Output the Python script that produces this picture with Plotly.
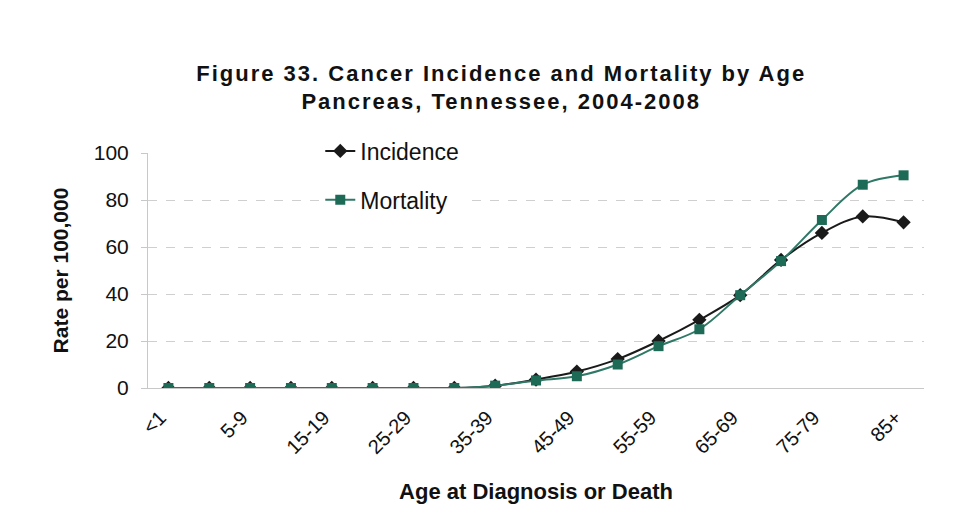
import plotly.graph_objects as go

# age groups (x axis) and rates per 100,000
age_groups = ['<1', '1-4', '5-9', '10-14', '15-19', '20-24', '25-29', '30-34', '35-39',
              '40-44', '45-49', '50-54', '55-59', '60-64', '65-69', '70-74', '75-79',
              '80-84', '85+']
incidence = [0, 0, 0, 0, 0, 0, 0, 0, 1.0, 3.6, 7.0, 12.3, 20.0, 29.0, 39.5, 54.5, 66.0, 73.0, 70.5]
mortality = [0, 0, 0, 0, 0, 0, 0, 0, 1.0, 3.2, 5.0, 10.0, 17.8, 25.0, 39.5, 54.0, 71.5, 86.5, 90.5]

tick_labels = age_groups[::2]

fig = go.Figure()

fig.add_trace(go.Scatter(x=age_groups, y=incidence, name='Incidence', legendgroup='inc',
                         mode='lines+markers', line=dict(color='#1a1a1a', width=2, shape='spline'),
                         marker=dict(symbol='diamond', size=11, color='#1a1a1a')))
fig.add_trace(go.Scatter(x=age_groups, y=mortality, name='Mortality', legendgroup='mort',
                         mode='lines+markers', line=dict(color='#2f7866', width=2, shape='spline'),
                         marker=dict(symbol='square', size=10, color='#1d6b57')))

fig.update_xaxes(range=[-0.5, 18.5], tickvals=tick_labels, ticktext=tick_labels,
                 tickangle=-45, tickfont=dict(size=20, color='#111'),
                 ticklabelstandoff=9, ticklabelshift=-8,
                 showgrid=False, showline=True, linecolor='#c8c8c8', ticks='',
                 title=dict(text='<b>Age at Diagnosis or Death</b>', font=dict(size=22, color='#111'),
                            standoff=26))
fig.update_yaxes(range=[0, 100], dtick=20, tickfont=dict(size=21, color='#111'),
                 showgrid=True, gridcolor='#cfcfcf', griddash='dash', gridwidth=1,
                 showline=True, linecolor='#c8c8c8', ticks='outside', ticklen=6,
                 tickcolor='#c8c8c8', zeroline=False, ticklabelstandoff=8,
                 title=dict(text='<b>Rate per 100,000</b>', font=dict(size=21, color='#111'),
                            standoff=19))

fig.update_layout(width=954, height=504,
                  title=dict(text='<span style="letter-spacing:2px"><b>Figure 33. Cancer Incidence and Mortality by Age</b></span><br>'
                                  '<span style="letter-spacing:2px"><b>Pancreas, Tennessee, 2004-2008</b></span>',
                             x=0.517, xanchor='center', y=0.856, yanchor='top',
                             font=dict(size=22, color='#111', family='Arial, Liberation Sans')),
                  font=dict(family='Arial, Liberation Sans'),
                  legend=dict(x=0.222, y=1.1, xanchor='left', yanchor='top',
                              bgcolor='white', font=dict(size=23, color='#111'),
                              traceorder='grouped', tracegroupgap=16),
                  showlegend=True,
                  margin=dict(l=140, r=38, t=145, b=124),
                  plot_bgcolor='white', paper_bgcolor='white')

fig.write_html("out.html")
